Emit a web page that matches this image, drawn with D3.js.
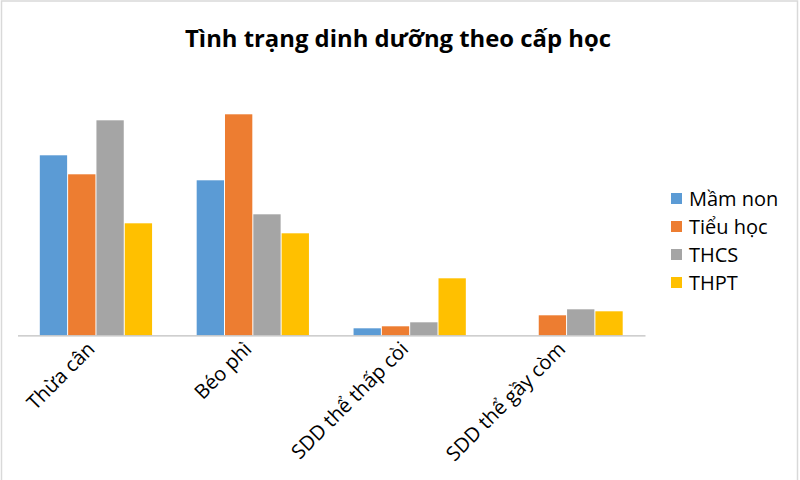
<!DOCTYPE html>
<html><head><meta charset="utf-8">
<script src="https://cdn.jsdelivr.net/npm/d3@7/dist/d3.min.js"></script>
<style>
html,body{margin:0;padding:0;background:#fff;}
svg{display:block;font-family:"Open Sans",sans-serif;}
</style></head>
<body>
<svg id="c" width="800" height="480"></svg>
<script>
const categories = ["Thừa cân", "Béo phì", "SDD thể thấp còi", "SDD thể gầy còm"];
const seriesNames = ["Mầm non", "Tiểu học", "THCS", "THPT"];
const mamNon  = [18.0, 15.5, 0.7, 0.0];
const tieuHoc = [16.1, 22.1, 0.9, 2.0];
const thcs    = [21.5, 12.1, 1.3, 2.6];
const thpt    = [11.2, 10.2, 5.7, 2.4];
const colors = ["#5B9BD5", "#ED7D31", "#A5A5A5", "#FFC000"];
const title = "Tình trạng dinh dưỡng theo cấp học";

const seriesValues = [mamNon, tieuHoc, thcs, thpt];
const svg = d3.select("#c");

// border
svg.append("rect").attr("x",1.5).attr("y",1).attr("width",796).attr("height",490)
  .attr("fill","none").attr("stroke","#d9d9d9").attr("stroke-width",1.5);

const baseY = 335.3;
const y = d3.scaleLinear().domain([0, 25]).range([baseY, baseY - 250]);
const x0 = d3.scaleBand().domain(categories).range([17.5, 645]).paddingInner(0).paddingOuter(0);
const bw = x0.bandwidth();
const x1 = d3.scaleBand().domain(seriesNames).range([bw*0.139, bw*0.861]);

const data = [];
categories.forEach((c,i)=>seriesNames.forEach((s,j)=>data.push({c,s,j,v:seriesValues[j][i]})));

svg.append("g").selectAll("rect").data(data.filter(d=>d.v>0)).join("rect")
  .attr("x", d=>x0(d.c)+x1(d.s)+0.5)
  .attr("width", x1.bandwidth()-1)
  .attr("y", d=>y(d.v))
  .attr("height", d=>y(0)-y(d.v))
  .attr("fill", d=>colors[d.j]);

// axis
const axis = svg.append("g").attr("transform",`translate(0,${baseY})`)
  .call(d3.axisBottom(x0).tickSize(0).tickSizeOuter(0));
axis.select(".domain").attr("stroke","#bfbfbf").attr("stroke-width",1.3);
axis.selectAll(".tick text")
  .attr("font-family","Open Sans").attr("font-size",20).attr("fill","#000")
  .attr("text-anchor","end").attr("dy",null).attr("y",0)
  .attr("transform","translate(0,15) rotate(-45)");

// title
const t = svg.append("text").attr("x",398).attr("y",47).attr("text-anchor","middle")
  .attr("font-weight","bold").attr("font-size",20).attr("fill","#000").text(title);
const tl = t.node().getComputedTextLength();
t.attr("font-size", 20*426/tl);

// legend
const lg = svg.append("g");
seriesNames.forEach((s,j)=>{
  const yy = 198.5 + j*28;
  lg.append("rect").attr("x",671).attr("y",yy-5.5).attr("width",11).attr("height",11).attr("fill",colors[j]);
  lg.append("text").attr("x",689).attr("y",yy+7).attr("font-size",20).attr("fill","#000").text(s);
});
</script>
</body></html>
